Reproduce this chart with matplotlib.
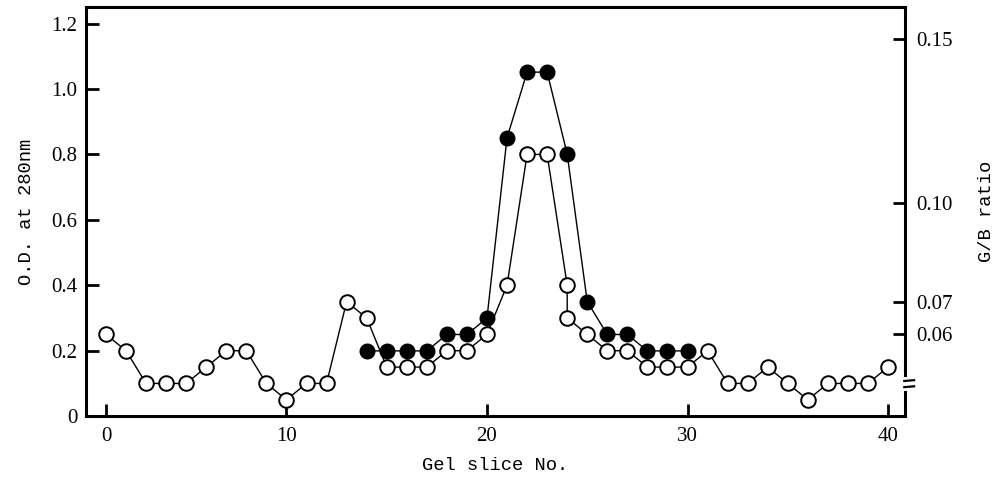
import matplotlib
matplotlib.use("Agg")
import matplotlib.pyplot as plt

# Open circles: O.D. at 280 nm per gel slice (slice 24 has two readings)
od_slices = [1, 2, 3, 4, 5, 6, 7, 8, 9, 10, 11, 12, 13, 14, 15, 16, 17, 18, 19, 20,
             21, 22, 23, 24, 24, 25, 26, 27, 28, 29, 30, 31, 32, 33, 34, 35, 36, 37, 38, 39, 40]
od_values = [0.25, 0.20, 0.10, 0.10, 0.10, 0.15, 0.20, 0.20, 0.10, 0.05, 0.10, 0.10, 0.35, 0.30,
             0.15, 0.15, 0.15, 0.20, 0.20, 0.25, 0.40, 0.80, 0.80, 0.40, 0.30, 0.25, 0.20, 0.20,
             0.15, 0.15, 0.15, 0.20, 0.10, 0.10, 0.15, 0.10, 0.05, 0.10, 0.10, 0.10, 0.15]

# Filled circles: G/B ratio
gb_slices = [14, 15, 16, 17, 18, 19, 20, 21, 22, 23, 24, 25, 26, 27, 28, 29, 30]
gb_values = [0.055, 0.055, 0.055, 0.055, 0.060, 0.060, 0.065, 0.120, 0.140, 0.140, 0.115,
             0.070, 0.060, 0.060, 0.055, 0.055, 0.055]

x_ticks = [1, 10, 20, 30, 40]
x_labels = ["0", "10", "20", "30", "40"]
od_ticks = [0, 0.2, 0.4, 0.6, 0.8, 1.0, 1.2]
od_labels = ["0", "0.2", "0.4", "0.6", "0.8", "1.0", "1.2"]
gb_ticks = [0.06, 0.07, 0.10, 0.15]
gb_labels = ["0.06", "0.07", "0.10", "0.15"]

tick_font = dict(family="Liberation Serif", size=15)
label_font = dict(family="Liberation Mono", size=13.5)

fig = plt.figure(figsize=(9.99, 4.8), dpi=100)
ax = fig.add_axes([0.086, 0.133, 0.82, 0.852])
ax2 = ax.twinx()

ax.plot(od_slices, od_values, color="black", lw=1.0, marker="o", ms=10.5,
        mfc="white", mec="black", mew=1.4, zorder=3)
ax2.plot(gb_slices, gb_values, color="black", lw=1.0, marker="o", ms=10.5,
         mfc="black", mec="black", mew=1.0, zorder=3)

ax.set_xlim(0, 40.85)
ax.set_ylim(0, 1.25)
ax2.set_ylim(0.0351, 0.1598)

ax.set_xticks(x_ticks)
ax.set_xticklabels(x_labels, **tick_font)
ax.set_yticks(od_ticks)
ax.set_yticklabels(od_labels, **tick_font)
ax2.set_yticks(gb_ticks)
ax2.set_yticklabels(gb_labels, **tick_font)

ax.tick_params(axis="both", direction="in", length=9, width=2, pad=6)
ax.tick_params(axis="x", pad=8)
ax2.tick_params(axis="y", direction="in", length=9, width=2, pad=8)

for s in ax.spines.values():
    s.set_linewidth(2.2)
for s in ax2.spines.values():
    s.set_visible(False)

# right spine with a break mark near the bottom
ax.spines["right"].set_visible(False)
kw = dict(transform=ax.transAxes, color="black", clip_on=False, lw=2.2)
ax.plot([1, 1], [0.10, 1.0], **kw)
ax.plot([1, 1], [0.0, 0.058], **kw)
ax.plot([0.999, 1.011], [0.086, 0.088], transform=ax.transAxes, color="black", clip_on=False, lw=1.6)
ax.plot([0.999, 1.011], [0.071, 0.073], transform=ax.transAxes, color="black", clip_on=False, lw=1.6)

ax.set_xlabel("Gel slice No.", labelpad=8, **label_font)
ax.set_ylabel("O.D. at 280nm", labelpad=12, **label_font)
ax2.set_ylabel("G/B ratio", labelpad=18, **label_font)

fig.savefig("out.png", dpi=100)
